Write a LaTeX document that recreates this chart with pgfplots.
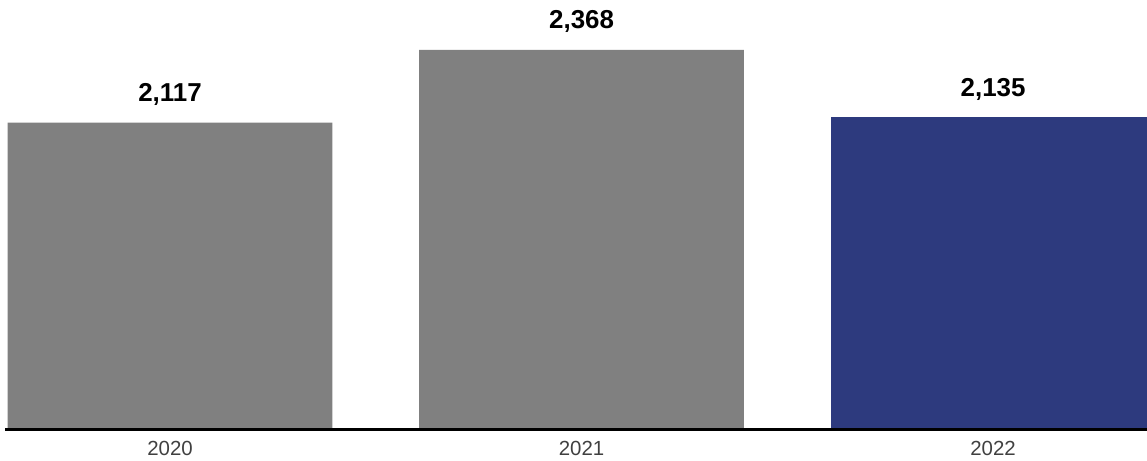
\documentclass[border=0pt]{standalone}
\usepackage{pgfplots}
\pgfplotsset{compat=1.18}
\usepackage{fontspec}
\setmainfont{Liberation Sans}
\definecolor{bargray}{RGB}{128,128,128}
\definecolor{barnavy}{RGB}{45,58,126}
\definecolor{ticktext}{RGB}{64,64,64}
\begin{document}
\begin{tikzpicture}
\begin{axis}[
  at={(5bp,31.5bp)}, anchor=south west,
  scale only axis,
  width=1142bp, height=429.5bp,
  xmin=-0.401, xmax=2.374,
  ymin=1059, ymax=2540,
  ybar, bar shift=0pt, bar width=0.789,
  axis on top,
  axis x line*=bottom, axis y line=none,
  x axis line style={line width=2bp, black, -},
  xtick={0,1,2}, xticklabels={2020,2021,2022},
  xtick style={draw=none}, major tick length=0pt,
  xticklabel style={font=\fontsize{20.5}{24}\selectfont, text=ticktext, anchor=base, yshift=-26.5bp},
  ytick=\empty,
  /pgf/number format/.cd, 1000 sep={,}, assume math mode=true,
  /pgfplots/.cd,
  nodes near coords,
  every node near coord/.append style={font=\fontsize{26}{30}\bfseries\selectfont, text=black, anchor=base, yshift=21bp},
]
\addplot[fill=bargray, draw=none] coordinates {(0,2117) (1,2368)};
\addplot[fill=barnavy, draw=none] coordinates {(2,2135)};
\end{axis}
\pgfresetboundingbox
\useasboundingbox (0,0) rectangle (1147bp,461bp);
\end{tikzpicture}
\end{document}
